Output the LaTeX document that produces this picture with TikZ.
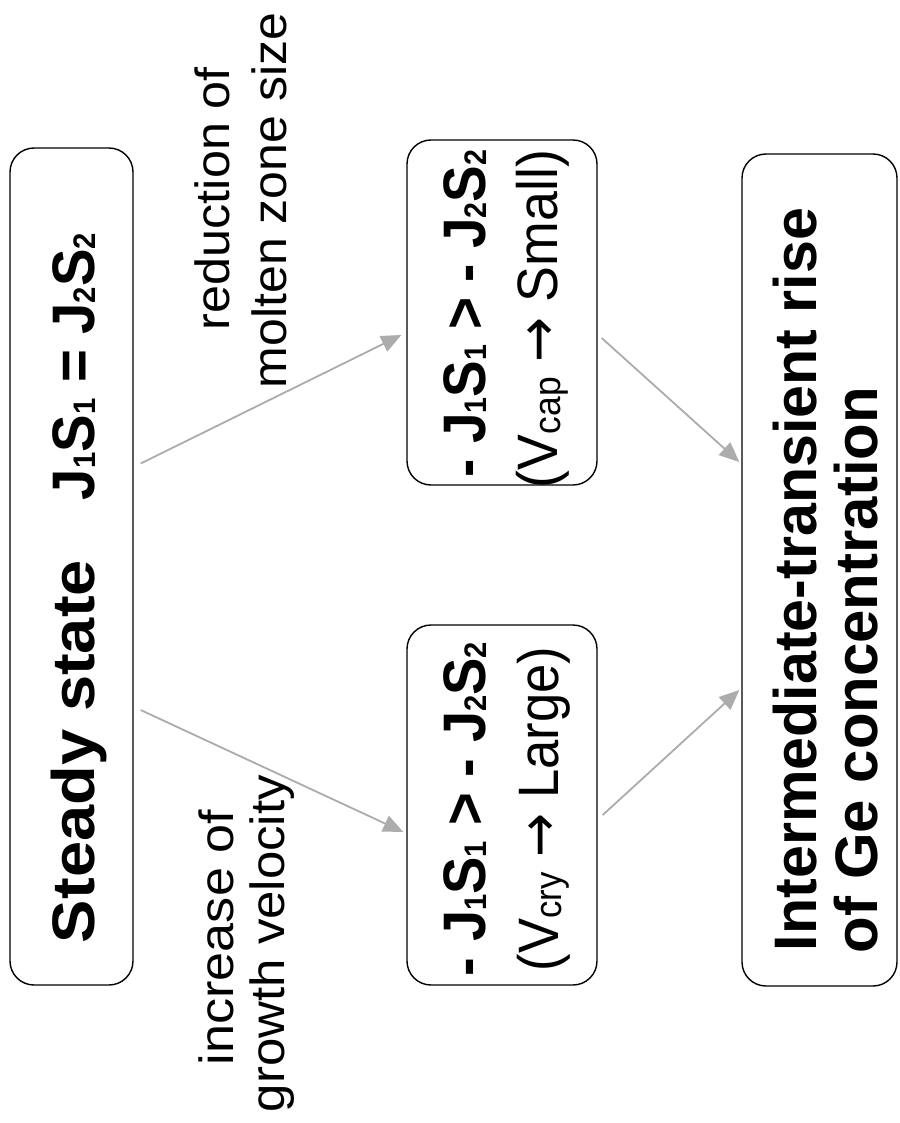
\documentclass[tikz,border=0pt]{standalone}
\usepackage{fontspec}
\setmainfont{Liberation Sans}
\newfontfamily\arrowfont{DejaVu Sans}
\usetikzlibrary{arrows.meta}
\newcommand{\mysub}[1]{\raisebox{-0.02em}{\scalebox{0.52}{#1}}}
\newcommand{\mysubr}[1]{\raisebox{-0.06em}{\scalebox{0.66}{#1}}}
\newcommand{\bfbig}{\fontsize{60}{72}\selectfont\bfseries}
\newcommand{\rgbox}{\fontsize{57}{68}\selectfont}
\newcommand{\rglab}{\fontsize{48}{58}\selectfont}
\tikzset{
  box/.style={draw=black, line width=1.4pt, rounded corners=24pt, rectangle, inner sep=0pt},
  txt/.style={rotate=90, anchor=base west, inner sep=0pt, outer sep=0pt},
  conn/.style={draw=gray!65, line width=1.8pt, -{Triangle[length=20pt,width=17pt]}}
}
\begin{document}
\begin{tikzpicture}[x=1pt,y=-1pt]
\fill[white] (0,0) rectangle (899,1123);
\useasboundingbox (0,0) rectangle (899,1123);
% boxes
\node[box, minimum width=123pt, minimum height=837pt] (b1) at (71.5,566.5) {};
\node[box, minimum width=190pt, minimum height=345pt] (b2) at (502,312.5) {};
\node[box, minimum width=190pt, minimum height=360pt] (b3) at (502,805) {};
\node[box, minimum width=155pt, minimum height=832pt] (b4) at (819.5,570) {};
% texts
\node[txt] (t1a) at (94,943) {\resizebox{383pt}{\height}{\bfbig Steady state}};
\node[txt] (t1b) at (94,500) {\resizebox{267pt}{\height}{\bfbig J\mysub{1}S\mysub{1} = J\mysub{2}S\mysub{2}}};
\node[txt] (t2a) at (485,477) {\resizebox{327pt}{\height}{\bfbig - J\mysub{1}S\mysub{1} > - J\mysub{2}S\mysub{2}}};
\node[txt] (t2b) at (557,488) {\resizebox{338pt}{\height}{\rgbox (V\mysubr{cap} {\arrowfont →} Small)}};
\node[txt] (t3a) at (485,976) {\resizebox{334pt}{\height}{\bfbig - J\mysub{1}S\mysub{1} > - J\mysub{2}S\mysub{2}}};
\node[txt] (t3b) at (558,971) {\resizebox{324pt}{\height}{\rgbox (V\mysubr{cry} {\arrowfont →} Large)}};
\node[txt] (t4a) at (816,951) {\resizebox{743pt}{\height}{\bfbig Intermediate-transient rise}};
\node[txt] (t4b) at (877,953) {\resizebox{566pt}{\height}{\bfbig of Ge concentration}};
\node[txt] (l1a) at (229,330) {\resizebox{263pt}{\height}{\rglab reduction of}};
\node[txt] (l1b) at (286,388) {\resizebox{375pt}{\height}{\rglab molten zone size}};
\node[txt] (l2a) at (233,1065) {\resizebox{255pt}{\height}{\rglab increase of}};
\node[txt] (l2b) at (284,1112) {\resizebox{337pt}{\height}{\rglab growth velocity}};
% connectors
\draw[conn] ([shift={(7,-103)}]b1.east) -- ([shift={(-5,22.5)}]b2.west);
\draw[conn] ([shift={(7,143.5)}]b1.east) -- ([shift={(-3,27)}]b3.west);
\draw[conn] ([shift={(4,25.5)}]b2.east) -- ([shift={(-2,-108)}]b4.west);
\draw[conn] ([shift={(5,10)}]b3.east) -- ([shift={(-2,120)}]b4.west);
\end{tikzpicture}
\end{document}
